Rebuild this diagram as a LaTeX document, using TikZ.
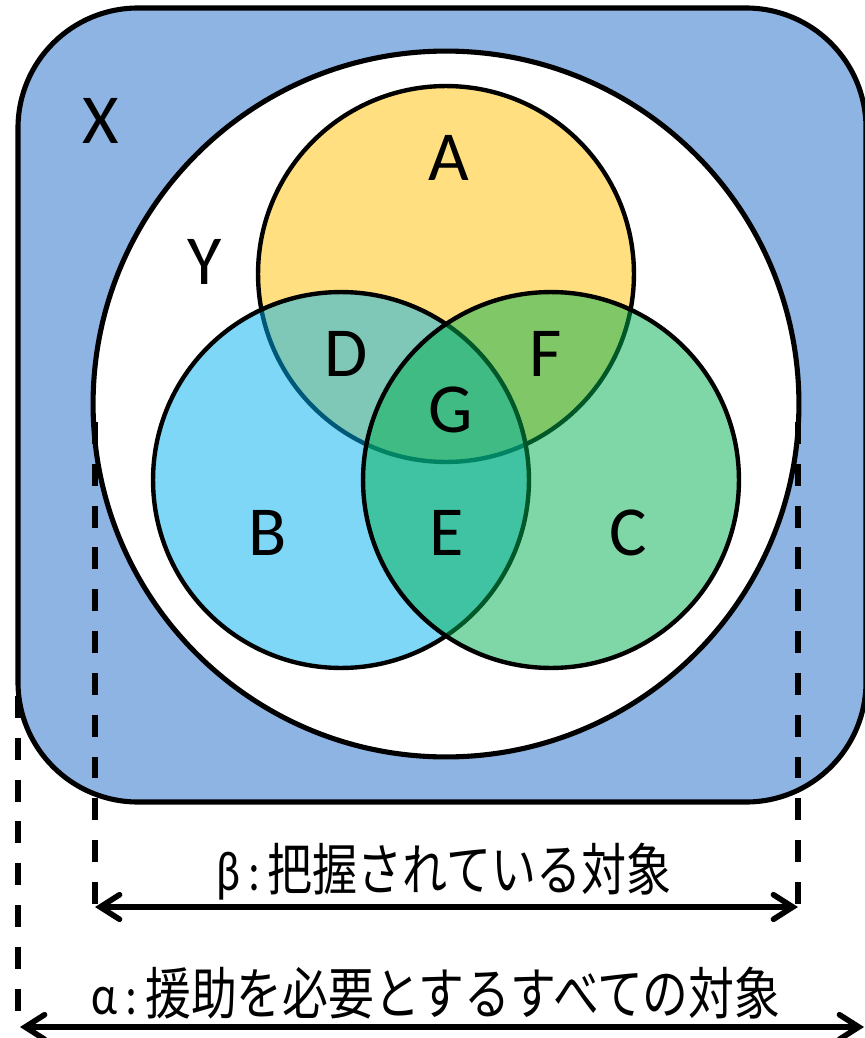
\documentclass[tikz,border=0pt]{standalone}
\usepackage{fontspec}
\usepackage{graphicx}
\setmainfont{Carlito}
\newfontfamily\jp{Noto Sans CJK JP}
\usetikzlibrary{arrows.meta}
\definecolor{xblue}{HTML}{8EB4E3}
\definecolor{cA}{HTML}{FFC000}
\definecolor{cB}{HTML}{00B0F0}
\definecolor{cC}{HTML}{00B050}
\tikzset{
  setbox/.style={draw=black, line width=2.9pt},
  venn/.style={circle, draw=black, line width=2.5pt, fill opacity=0.5, draw opacity=1, text opacity=1, inner sep=0pt, outer sep=0pt, minimum size=7.52cm},
  lab/.style={font=\fontsize{40}{48}\selectfont, inner sep=0pt},
  jplab/.style={inner sep=0pt},
  guide/.style={line width=3.2pt, dash pattern=on 12.5pt off 11.3pt},
  dim/.style={line width=3.2pt, line cap=round, {Straight Barb[length=11pt, width=14pt, line cap=round]}-{Straight Barb[length=11pt, width=14pt, line cap=round]}}
}
\begin{document}
\begin{tikzpicture}[x=0.02cm, y=-0.02cm]
\useasboundingbox (0,0) rectangle (865,1038);
% X set
\draw[setbox, fill=xblue, rounded corners=2.4cm] (18,8) rectangle (866,802);
\node[lab] (X) at (101,121) {X};
% Y set
\node[circle, setbox, fill=white, inner sep=0pt, outer sep=0pt, minimum size=14.12cm] (Y) at (446,404) {};
\node[lab] (Ylab) at (205,262) {Y};
% circles
\node[venn, fill=cA] (A) at (446,274) {};
\node[venn, fill=cB] (B) at (341,480) {};
\node[venn, fill=cC] (C) at (551,480) {};
% labels
\node[lab] (la) at (449,158) {A};
\node[lab] (lb) at (268,533) {B};
\node[lab] (lc) at (628,533) {C};
\node[lab] (ld) at (346,354) {D};
\node[lab] (le) at (447,533) {E};
\node[lab] (lf) at (546,354) {F};
\node[lab] (lg) at (451,410) {G};
% guides
\coordinate (bLt) at (95,422);
\coordinate (bRt) at (798,422);
\coordinate (bL) at (95,907);
\coordinate (bR) at (798,907);
\coordinate (aLt) at (18,696);
\coordinate (aLb) at (18,1018);
\coordinate (aL) at (20,1027);
\coordinate (aR) at (864,1027);
\draw[guide] (bLt) -- (bL);
\draw[guide] (bRt) -- (bR);
\draw[guide] (aLt) -- (aLb);
\draw[dim] (bL) -- (bR);
\draw[dim] (aL) -- (aR);
\node[jplab] (beta) at (444,872) {\scalebox{0.8}[1]{\fontsize{32}{36}\selectfont β\,:\,{\jp 把握されている対象}}};
\node[jplab] (alpha) at (436,993) {\scalebox{0.815}[1]{\fontsize{32}{36}\selectfont α\,:\,{\jp 援助を必要とするすべての対象}}};
\end{tikzpicture}
\end{document}
